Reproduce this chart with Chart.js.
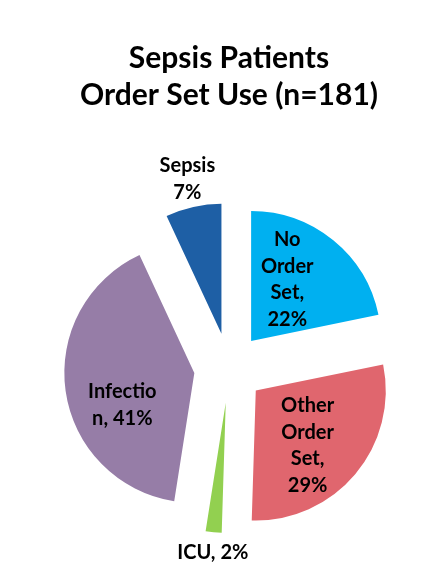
<!DOCTYPE html>
<html><head><meta charset="utf-8">
<script src="https://cdn.jsdelivr.net/npm/chart.js@4.4.1/dist/chart.umd.min.js"></script>
<style>html,body{margin:0;padding:0;background:#fff;}canvas{display:block;}</style>
</head><body>
<canvas id="c" width="448" height="574"></canvas>
<script>
const categories = ['No Order Set', 'Other Order Set', 'ICU', 'Infection', 'Sepsis'];
const percentValues = [22, 29, 2, 41, 7];
const sliceColors = ['#00B0F0', '#E0666E', '#92D050', '#967DA7', '#1E5FA5'];
const titleLines = ['Sepsis Patients', 'Order Set Use (n=181)'];
const pct = i => percentValues[i] + '%';
const dataLabels = [
  ['No', 'Order', 'Set,', pct(0)],
  ['Other', 'Order', 'Set,', pct(1)],
  ['ICU, ' + pct(2)],
  ['Infectio', 'n, ' + pct(3)],
  ['Sepsis', pct(4)]
];

const EXPLODE = 35;

const explodePlugin = {
  id: 'explode',
  beforeDatasetDraw(chart, args, opts) {
    const ctx = chart.ctx;
    const d = opts.distance;
    args.meta.data.forEach(arc => {
      const mid = (arc.startAngle + arc.endAngle) / 2;
      ctx.save();
      ctx.translate(Math.cos(mid) * d, Math.sin(mid) * d);
      arc.draw(ctx);
      ctx.restore();
    });
    return false;
  }
};

const sliceLabelPlugin = {
  id: 'sliceLabels',
  afterDatasetsDraw(chart, args, opts) {
    const meta = chart.getDatasetMeta(0);
    const ctx = chart.ctx;
    const d = opts.distance;
    ctx.save();
    ctx.font = 'bold ' + opts.size + 'px Lato';
    ctx.fillStyle = '#000';
    ctx.textAlign = 'center';
    ctx.textBaseline = 'alphabetic';
    const capHalf = opts.size * 0.358;
    meta.data.forEach((arc, i) => {
      const mid = (arc.startAngle + arc.endAngle) / 2;
      const ax = arc.x + Math.cos(mid) * d;
      const ay = arc.y + Math.sin(mid) * d;
      const p = opts.placements[i];
      const a = mid + p.da * Math.PI / 180;
      const cx = ax + Math.cos(a) * p.r;
      const cy = ay + Math.sin(a) * p.r;
      const lines = dataLabels[i];
      lines.forEach((t, j) => {
        ctx.fillText(t, cx, cy + (j - (lines.length - 1) / 2) * opts.lineHeight + capHalf);
      });
    });
    ctx.restore();
  }
};

new Chart(document.getElementById('c'), {
  type: 'pie',
  data: {
    labels: categories,
    datasets: [{
      data: percentValues,
      backgroundColor: sliceColors,
      borderWidth: 0,
      radius: 130
    }]
  },
  options: {
    responsive: false,
    animation: false,
    devicePixelRatio: 1,
    layout: { padding: { left: 10, right: 0, top: 0, bottom: 0 } },
    plugins: {
      legend: { display: false },
      tooltip: { enabled: false },
      title: {
        display: true,
        text: titleLines,
        color: '#000',
        font: { family: 'Lato', size: 30, weight: 'bold', lineHeight: '37px' },
        padding: { top: 40, bottom: 48 }
      },
      explode: { distance: EXPLODE },
      sliceLabels: {
        distance: EXPLODE,
        size: 20,
        lineHeight: 26.5,
        placements: [
          { r: 72, da: -9.1 },
          { r: 75, da: 6.2 },
          { r: 150, da: -0.4 },
          { r: 78.6, da: -15.6 },
          { r: 159, da: 0.1 }
        ]
      }
    }
  },
  plugins: [explodePlugin, sliceLabelPlugin]
});
</script>
</body></html>
